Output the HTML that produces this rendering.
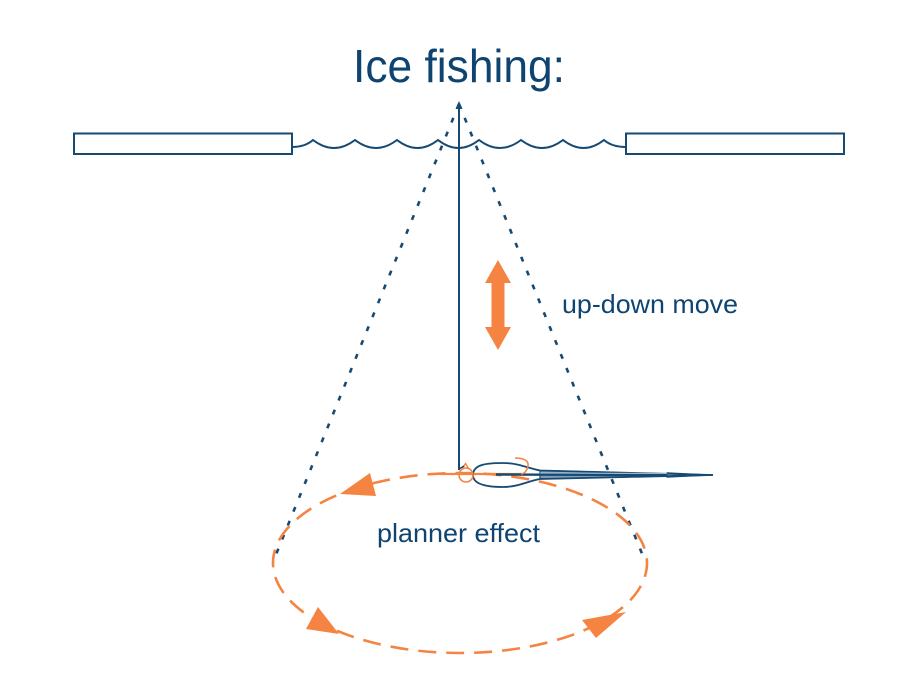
<!DOCTYPE html>
<html>
<head>
<meta charset="utf-8">
<style>
  html,body{margin:0;padding:0;background:#fff;}
  svg{display:block;}
  text{font-family:"Liberation Sans", Arial, sans-serif;}
</style>
</head>
<body>
<svg width="900" height="700" viewBox="0 0 900 700" xmlns="http://www.w3.org/2000/svg">
  <rect width="900" height="700" fill="#fff"/>

  <!-- Title -->
  <text x="353" y="82" font-size="46" fill="#0f4470" textLength="212" lengthAdjust="spacingAndGlyphs">Ice fishing:</text>

  <!-- Ice blocks -->
  <rect x="74" y="133.5" width="218" height="20.5" fill="#fff" stroke="#174a72" stroke-width="2"/>
  <rect x="626" y="133.5" width="218" height="20.5" fill="#fff" stroke="#174a72" stroke-width="2"/>

  <!-- Water waves -->
  <path d="M292,147 Q305,147 313,140 Q334,156 355,140 Q376,156 397,140 Q417.5,156 438,140 Q458.5,156 479,140 Q500,156 521,140 Q542,156 563,140 Q583.5,156 604,140 Q612,147 626,147"
        fill="none" stroke="#174a72" stroke-width="2"/>

  <!-- Dotted cone lines -->
  <line x1="459" y1="104" x2="275" y2="557" stroke="#174a72" stroke-width="2.6" stroke-dasharray="5 10"/>
  <line x1="459" y1="104" x2="643" y2="556" stroke="#174a72" stroke-width="2.6" stroke-dasharray="5 10"/>

  <!-- Fishing line -->
  <line x1="459" y1="106" x2="459" y2="470" stroke="#174a72" stroke-width="2"/>
  <polygon points="459,101 455.5,109 462.5,109" fill="#174a72"/>

  <!-- Up-down arrow -->
  <polygon points="498,260 511,283 504.5,283 504.5,327 511,327 498,350 485,327 491.5,327 491.5,283 485,283" fill="#f58442"/>
  <text x="562" y="313" font-size="26" fill="#0f4470" textLength="176" lengthAdjust="spacingAndGlyphs">up-down move</text>

  <!-- Orbit ellipse -->
  <ellipse cx="460" cy="563" rx="187" ry="90" fill="none" stroke="#f58442" stroke-width="2.6" stroke-dasharray="18 10" stroke-dashoffset="4"/>
  <line x1="440" y1="474" x2="525" y2="474" stroke="#f58442" stroke-width="2.2"/>

  <!-- Orbit arrowheads -->
  <polygon points="370,473 376,496 340,494" fill="#f58442"/>
  <polygon points="318,607 306,629 339,634" fill="#f58442"/>
  <polygon points="582,620 596,638 626,612" fill="#f58442"/>

  <text x="377" y="542" font-size="26" fill="#0f4470" textLength="163" lengthAdjust="spacingAndGlyphs">planner effect</text>

  <!-- Lure -->
  <path d="M540,470.5 L713,475 L540,479 Z" fill="#7f9fbd" stroke="#174a72" stroke-width="1.2"/>
  <path d="M667,472.8 L713,475 L667,477.2 Z" fill="#fff" stroke="#174a72" stroke-width="1"/>
  <path d="M473,475 C473,464 488,463 503,463 C519,463 527,468 540,470.5 L713,475 L540,479 C528,481 518,487 503,487 C488,487 473,485 473,475 Z"
        fill="none" stroke="#174a72" stroke-width="1.8"/>
  <line x1="496" y1="474.5" x2="667" y2="475" stroke="#174a72" stroke-width="2.4"/>
  <line x1="540" y1="473" x2="667" y2="473.4" stroke="#c9d6e3" stroke-width="0.8"/>

  <!-- Hook -->
  <path d="M515,458 C524,458 529,461 528,466 C527,471 524,474 521,474" fill="none" stroke="#f58442" stroke-width="1.6"/>
  <!-- Ring -->
  <circle cx="466" cy="475" r="7" fill="none" stroke="#f58442" stroke-width="1.6"/>
  <path d="M462.5,468.5 L465.5,463.5 L468.5,468.5" fill="none" stroke="#f58442" stroke-width="1.4"/>
  <path d="M459,469 L464,466" fill="none" stroke="#174a72" stroke-width="1.4"/>
</svg>
</body>
</html>
